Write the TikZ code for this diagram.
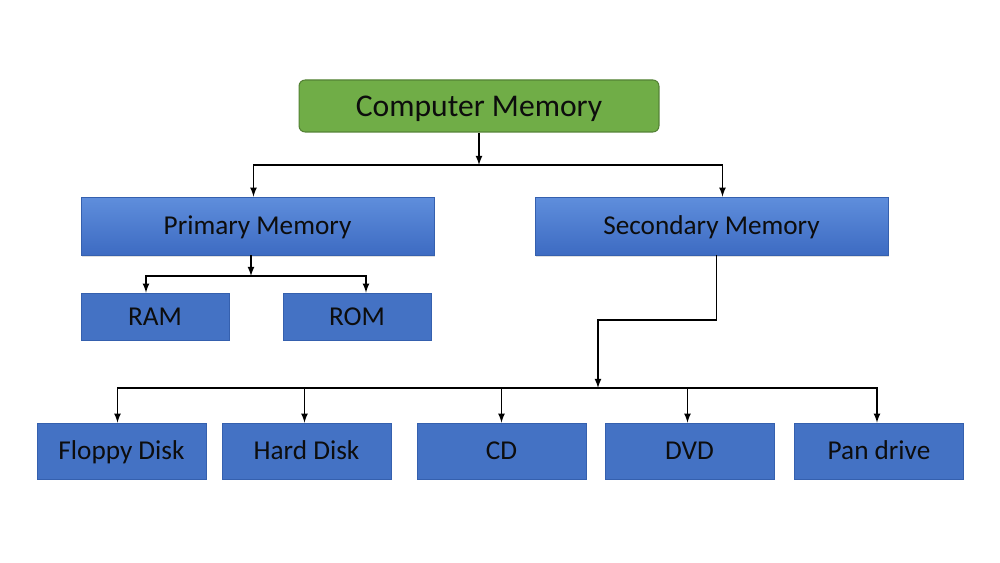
\documentclass[tikz,border=0pt]{standalone}
\usepackage{fontspec}
\setmainfont{Carlito}
\usepackage{tikz}
\usetikzlibrary{calc,arrows,shadows}
\definecolor{cmgreen}{HTML}{70AD47}
\definecolor{cmgreenline}{HTML}{548235}
\definecolor{memblue}{HTML}{4472C4}
\definecolor{membluetop}{HTML}{5F8EDC}
\definecolor{membluebot}{HTML}{3D6BC2}
\definecolor{memline}{HTML}{3560AE}
\definecolor{txt}{HTML}{0D0D0D}
\tikzset{
  topbox/.style={draw=cmgreenline, fill=cmgreen, rounded corners=3.5pt, line width=0.6pt,
    minimum width=7.2cm, minimum height=1.04cm, inner sep=0pt, text=txt,
    text height=11.6pt, text depth=0pt, font=\fontsize{18}{22}\selectfont},
  midbox/.style={draw=memline, top color=membluetop, bottom color=membluebot, line width=0.4pt,
    minimum width=7.06cm, minimum height=1.16cm, inner sep=0pt, text=txt,
    drop shadow={opacity=0.25, shadow xshift=0.6pt, shadow yshift=-1.2pt},
    text height=10pt, text depth=0pt, font=\fontsize{15.5}{19}\selectfont},
  leafbox/.style={draw=memline, fill=memblue, line width=0.4pt, inner sep=0pt, text=txt,
    minimum height=0.94cm, text height=10pt, text depth=0pt,
    font=\fontsize{15.5}{19}\selectfont},
  conn/.style={-latex, line width=0.8pt, black}
}
\begin{document}
\begin{tikzpicture}[x=0.02cm, y=-0.02cm]
            \useasboundingbox[fill=white] (0,0) rectangle (1000,563);
            % boxes
            \node[topbox] (cm) at (479,106) {Computer Memory};
            \node[midbox] (pm) at (257.5,226) {Primary Memory};
            \node[midbox] (sm) at (711.5,226) {Secondary Memory};
            \node[leafbox, minimum width=2.96cm] (ram) at (155,316.5) {RAM};
            \node[leafbox, minimum width=2.96cm] (rom) at (357,316.5) {ROM};
            \node[leafbox, minimum width=3.38cm, minimum height=1.12cm] (fd) at (121.5,451) {Floppy Disk};
            \node[leafbox, minimum width=3.38cm, minimum height=1.12cm] (hd) at (306.5,451) {Hard Disk};
            \node[leafbox, minimum width=3.38cm, minimum height=1.12cm] (cd) at (501.5,451) {CD};
            \node[leafbox, minimum width=3.38cm, minimum height=1.12cm] (dvd) at (689.5,451) {DVD};
            \node[leafbox, minimum width=3.38cm, minimum height=1.12cm] (pd) at (879,451) {Pan drive};
            % junctions
            \coordinate (j1) at (479,165);
            \coordinate (j2) at (251,276);
            \coordinate (bend) at (598,320);
            \coordinate (j3) at (598,388);
            % connectors
            \draw[conn] (cm.south) -- (j1);
            \draw[conn] (j1) -| ($(pm.north)+(-4,0)$);
            \draw[conn] (j1) -| ($(sm.north)+(11,0)$);
            \draw[conn] (pm.south -| j2) -- (j2);
            \draw[conn] (j2) -| ($(ram.north)+(-9,0)$);
            \draw[conn] (j2) -| ($(rom.north)+(9,0)$);
            \draw[conn] ($(sm.south)+(5,0)$) |- (bend) -- (j3);
            \draw[conn] (j3) -| ($(fd.north)+(-4,0)$);
            \draw[conn] (j3) -| ($(hd.north)+(-2,0)$);
            \draw[conn] (j3) -| (cd.north);
            \draw[conn] (j3) -| ($(dvd.north)+(-2,0)$);
            \draw[conn] (j3) -| ($(pd.north)+(-2,0)$);
        \end{tikzpicture}
\end{document}
